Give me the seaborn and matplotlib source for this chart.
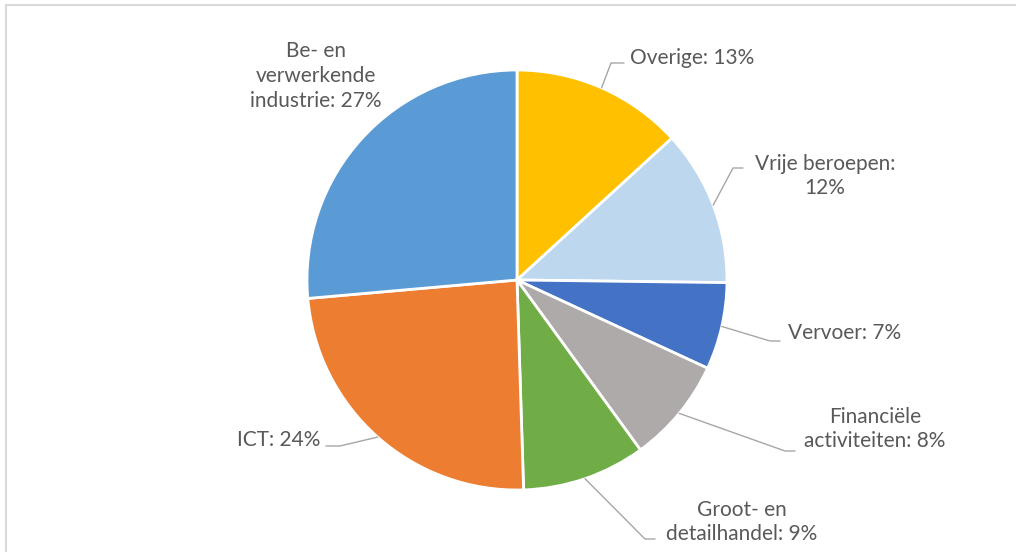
import matplotlib
matplotlib.use("Agg")
import numpy as np
import seaborn as sns
import matplotlib.pyplot as plt

# data
categories = ["Overige", "Vrije beroepen", "Vervoer", "Financiële\nactiviteiten",
              "Groot- en\ndetailhandel", "ICT", "Be- en\nverwerkende\nindustrie"]
# slice shares as measured from the wedges, and the rounded labels shown
shares = [13.2, 12.0, 6.7, 8.1, 9.5, 24.1, 26.4]
pct_labels = [13, 12, 7, 8, 9, 24, 27]
separators = [": ", ":\n", ": ", ": ", ": ", ": ", ": "]
colors = ["#FFC000", "#BDD7EE", "#4472C4", "#ADAAA9", "#70AD47", "#ED7D31", "#5B9BD5"]

# layout in image pixels (x, y from top)
W, H = 1016, 552
center = (517, 280)
radius = 210
text_pos = [(692, 58), (825, 176), (845, 333), (875, 429), (742, 522), (279, 440), (316, 76)]
elbows = [[(611, 63), (624, 63)], [(733, 168), (743, 168)], [(770, 341), (780, 341)],
          [(785, 451), (795, 451)], [(645, 539), (655, 539)], [(340, 446), (326, 446)], None]

sns.set_theme(style="white")
plt.rcParams['font.family'] = ['Lato', 'DejaVu Sans']

fig = plt.figure(figsize=(W / 100, H / 100), dpi=100)
ax = fig.add_axes([0, 0, 1, 1])

wedges, _ = ax.pie(shares, colors=colors, startangle=90, counterclock=False,
                   center=(center[0], H - center[1]), radius=radius,
                   wedgeprops=dict(edgecolor="white", linewidth=2), frame=True)
ax.set_xlim(0, W)
ax.set_ylim(0, H)
ax.set_aspect("equal")
ax.axis("off")

grey = "#595959"
line_c = "#A6A6A6"
total = sum(shares)
cum = 0
for i, v in enumerate(shares):
    mid = (cum + v / 2) / total * 2 * np.pi
    cum += v
    sx = center[0] + radius * np.sin(mid)
    sy = center[1] - radius * np.cos(mid)
    txt = f"{categories[i]}{separators[i]}{pct_labels[i]}%"
    tx, ty = text_pos[i]
    ax.text(tx, H - ty, txt, ha="center", va="center", multialignment="center",
            fontsize=15, color=grey, linespacing=1.3)
    if elbows[i] is not None:
        pts = [(sx, sy)] + elbows[i]
        ax.plot([p[0] for p in pts], [H - p[1] for p in pts], color=line_c, lw=1)

# chart frame (top and left visible)
ax.plot([6, W], [H - 5, H - 5], color="#D9D9D9", lw=1.5, clip_on=False)
ax.plot([6, 6], [H - 5, 0], color="#D9D9D9", lw=1.5, clip_on=False)

fig.savefig("out.png", dpi=100)
